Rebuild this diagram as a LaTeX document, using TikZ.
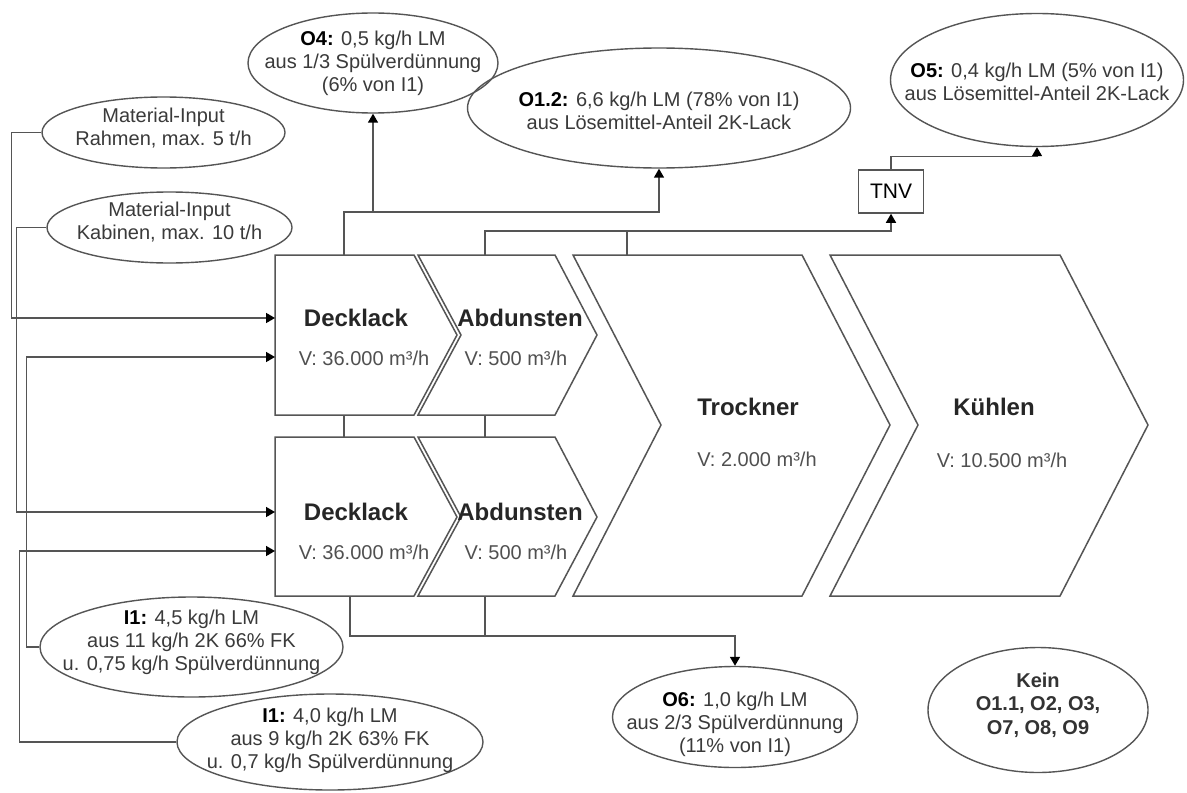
\documentclass[tikz,border=0pt]{standalone}
\usepackage{fontspec}
\setmainfont{Liberation Sans}
\usetikzlibrary{shapes.geometric,arrows.meta}
\definecolor{lc}{HTML}{555555}
\definecolor{tc}{HTML}{3A3A3A}
\definecolor{tc2}{HTML}{505050}
\tikzset{
  ln/.style={draw=lc, line width=0.75pt},
  arr/.style={ln, -{Triangle[length=4.5pt,width=5pt,color=black]}},
  ell/.style={ellipse, draw=lc, line width=0.7pt, inner sep=0pt},
  txt/.style={align=center, font=\fontsize{10}{11.5}\selectfont, text=tc, inner sep=0pt},
  hd/.style={font=\fontsize{12}{14}\selectfont\bfseries, text=black!85, inner sep=0pt},
  vv/.style={font=\fontsize{10}{12}\selectfont, text=tc2, inner sep=0pt},
  proc/.style={draw=lc, line width=0.75pt, fill=white},
  tnvbox/.style={draw=lc, line width=0.75pt, minimum width=32.5pt, minimum height=21.5pt, inner sep=0pt, font=\fontsize{10.5}{12}\selectfont, text=black}
}
\begin{document}
\begin{tikzpicture}[x=0.5pt,y=-0.5pt]
\useasboundingbox (0,0) rectangle (1187,792);
\fill[white] (0,0) rectangle (1187,792);

% process shapes
\draw[proc] (275,255) -- (414,255) -- (457,335) -- (414,415) -- (275,415) -- cycle;
\draw[proc] (418,255) -- (555,255) -- (597,335) -- (555,415) -- (418,415) -- (461,335) -- cycle;
\draw[proc] (275,437) -- (414,437) -- (457,517) -- (414,596) -- (275,596) -- cycle;
\draw[proc] (418,437) -- (555,437) -- (597,517) -- (555,596) -- (418,596) -- (461,517) -- cycle;
\draw[proc] (573,255) -- (802,255) -- (890,425) -- (802,596) -- (573,596) -- (661,425) -- cycle;
\draw[proc] (830,255) -- (1060,255) -- (1148,425) -- (1060,596) -- (830,596) -- (918,425) -- cycle;

% process labels
\node[hd] (dl1) at (356,318) {Decklack};
\node[vv] (dl1v) at (364,358) {V: 36.000 m³/h};
\node[hd] (ab1) at (520,318) {Abdunsten};
\node[vv] (ab1v) at (516,358) {V: 500 m³/h};
\node[hd] (dl2) at (356,512) {Decklack};
\node[vv] (dl2v) at (364,552) {V: 36.000 m³/h};
\node[hd] (ab2) at (520,512) {Abdunsten};
\node[vv] (ab2v) at (516,552) {V: 500 m³/h};
\node[hd] (tr) at (748,407) {Trockner};
\node[vv] (trv) at (757,459) {V: 2.000 m³/h};
\node[hd] (kue) at (994,407) {Kühlen};
\node[vv] (kuev) at (1002,460) {V: 10.500 m³/h};

% ellipses
\node[ell, minimum width=121.5pt, minimum height=35.5pt] (rahmen) at (163.5,132.5) {};
\node[txt] at (163.5,128) {Material-Input\\Rahmen, max. 5 t/h};
\node[ell, minimum width=122.5pt, minimum height=35.5pt] (kabinen) at (169.5,227.5) {};
\node[txt] at (169.5,222) {Material-Input\\Kabinen, max. 10 t/h};
\node[ell, minimum width=125pt, minimum height=50pt] (o4) at (373,63) {};
\node[txt] at (373,63) {\textcolor{black}{\textbf{O4:}} 0,5 kg/h LM\\aus 1/3 Spülverdünnung\\(6\% von I1)};
\node[ell, minimum width=191.5pt, minimum height=60pt] (o12) at (659,108) {};
\node[txt] at (659,111) {\textcolor{black}{\textbf{O1.2:}} 6,6 kg/h LM (78\% von I1)\\aus Lösemittel-Anteil 2K-Lack};
\node[ell, minimum width=146.5pt, minimum height=66.5pt] (o5) at (1037,80) {};
\node[txt] at (1037,82) {\textcolor{black}{\textbf{O5:}} 0,4 kg/h LM (5\% von I1)\\aus Lösemittel-Anteil 2K-Lack};
\node[ell, minimum width=151.5pt, minimum height=50pt] (i1a) at (191.5,647) {};
\node[txt] at (191.5,642) {\textcolor{black}{\textbf{I1:}} 4,5 kg/h LM\\aus 11 kg/h 2K 66\% FK\\u. 0,75 kg/h Spülverdünnung};
\node[ell, minimum width=153pt, minimum height=48pt] (i1b) at (330,742) {};
\node[txt] at (330,740) {\textcolor{black}{\textbf{I1:}} 4,0 kg/h LM\\aus 9 kg/h 2K 63\% FK\\u. 0,7 kg/h Spülverdünnung};
\node[ell, minimum width=122.5pt, minimum height=50.5pt] (o6) at (735,717) {};
\node[txt] at (735,724) {\textcolor{black}{\textbf{O6:}} 1,0 kg/h LM\\aus 2/3 Spülverdünnung\\(11\% von I1)};
\node[ell, minimum width=110pt, minimum height=62.5pt] (kein) at (1038,710) {};
\node[txt, font=\fontsize{10}{11.8}\selectfont\bfseries, text=black!80] at (1038,705) {Kein\\O1.1, O2, O3,\\O7, O8, O9};

% TNV
\node[tnvbox] (tnv) at (891,191.5) {TNV};

% coordinates
\coordinate (d1t) at (344,255);
\coordinate (d1b) at (344,415);
\coordinate (d2t) at (344,437);
\coordinate (d2b) at (350,596);
\coordinate (a1t) at (485,255);
\coordinate (a1b) at (485,415);
\coordinate (a2t) at (485,437);
\coordinate (a2b) at (485,596);
\coordinate (trt) at (627,255);
\coordinate (d1in1) at (275,318);
\coordinate (d1in2) at (275,357);
\coordinate (d2in1) at (275,512);
\coordinate (d2in2) at (275,551);
\coordinate (j0) at (344,212);
\coordinate (j1) at (373,212);
\coordinate (k0) at (485,231);
\coordinate (k1) at (627,231);
\coordinate (l0) at (350,636);
\coordinate (l1) at (485,636);

% connectors
\draw[ln] (d1b) -- (d2t);
\draw[ln] (a1b) -- (a2t);
\draw[arr] (d1t) -- (j0) -| (o12.south);
\draw[arr] (j1) -- (o4.south);
\draw[arr] (a1t) -- (k0) -| (tnv.south);
\draw[ln] (k1) -- (trt);
\draw[arr] (tnv.north) -- ++(0,-13) -| (o5.south);
\draw[arr] (d2b) -- (l0) -| (o6.north);
\draw[ln] (a2b) -- (l1);
\draw[arr] (rahmen.west) -- ++(-30,0) |- (d1in1);
\draw[arr] (kabinen.west) -- ++(-30,0) |- (d2in1);
\draw[arr] (i1a.west) -- ++(-13,0) |- (d1in2);
\draw[arr] (i1b.west) -- ++(-157,0) |- (d2in2);
\end{tikzpicture}
\end{document}
